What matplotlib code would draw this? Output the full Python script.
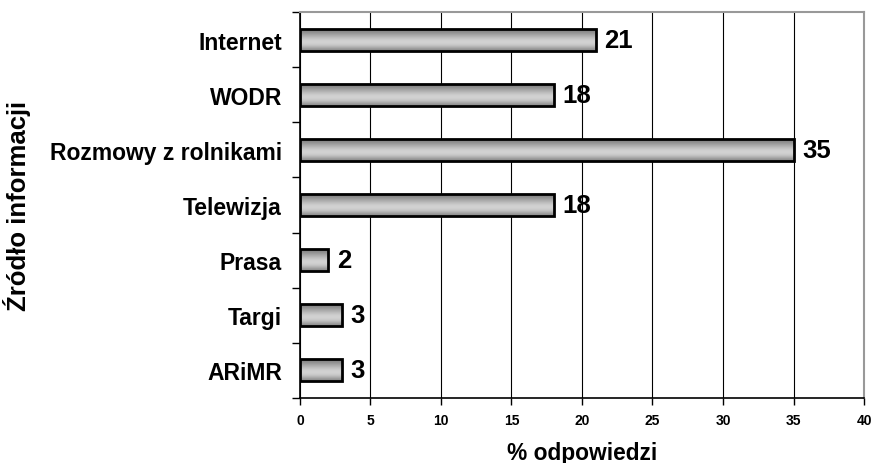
import numpy as np
import matplotlib
matplotlib.use("Agg")
import matplotlib.pyplot as plt

plt.rcParams["font.family"] = ["Liberation Sans", "DejaVu Sans"]
plt.rcParams["font.weight"] = "bold"

categories = ["ARiMR", "Targi", "Prasa", "Telewizja", "Rozmowy z rolnikami", "WODR", "Internet"]
values = [3, 3, 2, 18, 35, 18, 21]
xticks = [0, 5, 10, 15, 20, 25, 30, 35, 40]

fig = plt.figure(figsize=(8.73, 4.64), dpi=100)
ax = fig.add_axes([0.3436, 0.1401, 0.6461, 0.8319])

y = np.arange(len(categories))
bh = 0.4
bars = ax.barh(y, values, height=bh, facecolor="none", edgecolor="black", lw=2, zorder=3)

# vertical grey gradient inside each bar (dark edges, lighter middle)
grad = np.array([0.48, 0.56, 0.66, 0.76, 0.83, 0.82, 0.72, 0.55]).reshape(-1, 1)
for b in bars:
    x0, y0 = b.get_x(), b.get_y()
    w, h = b.get_width(), b.get_height()
    im = ax.imshow(grad, cmap="gray", vmin=0, vmax=1, aspect="auto",
                   extent=[x0, x0 + w, y0, y0 + h], origin="upper",
                   interpolation="bicubic", zorder=2)
    im.set_clip_path(b)

for yi, v in zip(y, values):
    ax.text(v + 0.6, yi, str(v), va="center", ha="left", fontsize=18.5, fontweight="bold")

ax.set_xlim(0, 40)
ax.set_ylim(-0.5, len(categories) - 0.5)
ax.set_xticks(xticks)
ax.set_xticklabels([str(t) for t in xticks], fontsize=10, fontweight="bold")
ax.set_yticks(y)
ax.set_yticklabels(categories, fontsize=16.5, fontweight="bold")
ax.tick_params(axis="y", length=0, pad=13)
ax.set_yticks(np.arange(len(categories) + 1) - 0.5, minor=True)
ax.tick_params(axis="y", which="minor", length=6, width=1, direction="out")
ax.tick_params(axis="x", length=5, width=1, direction="out", pad=6)
ax.grid(axis="x", color="black", lw=0.8, zorder=1)
ax.set_axisbelow(True)

for s in ["top", "right"]:
    ax.spines[s].set_color("#999999")
    ax.spines[s].set_linewidth(1.5)
for s in ["left", "bottom"]:
    ax.spines[s].set_color("black")
    ax.spines[s].set_linewidth(1.2)

ax.set_xlabel("% odpowiedzi", fontsize=16.4, fontweight="bold", labelpad=10)
ax.set_ylabel("Źródło informacji", fontsize=18.5, fontweight="bold")
ax.yaxis.set_label_coords(-0.477, 0.5)

fig.savefig("out.png", dpi=100)
